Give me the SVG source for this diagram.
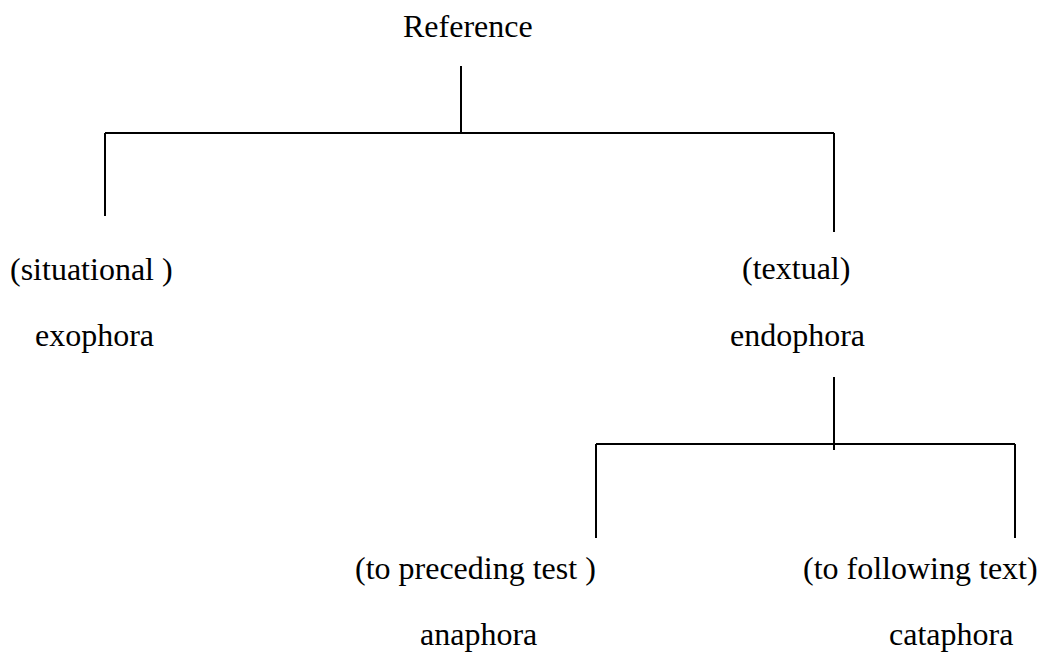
<svg xmlns="http://www.w3.org/2000/svg" width="1047" height="655" viewBox="0 0 1047 655">
<style>
text{font-family:"Liberation Serif","Times New Roman",serif;font-size:32px;fill:#000}
.c line{stroke:#000;stroke-width:2;fill:none}
</style>
<rect width="1047" height="655" fill="#fff"/>
<g id="connectors" class="c">
<line x1="461" y1="66" x2="461" y2="133"/>
<line x1="105" y1="133" x2="834" y2="133"/>
<line x1="105" y1="133" x2="105" y2="216"/>
<line x1="834" y1="133" x2="834" y2="232"/>
<line x1="834" y1="377" x2="834" y2="450"/>
<line x1="596" y1="444" x2="1015" y2="444"/>
<line x1="596" y1="444" x2="596" y2="538"/>
<line x1="1015" y1="444" x2="1015" y2="538"/>
</g>
<g id="reference"><text x="403" y="37">Reference</text></g>
<g id="exophora"><text x="10" y="280">(situational )</text><text x="35" y="346">exophora</text></g>
<g id="endophora"><text x="742" y="279">(textual)</text><text x="730" y="346">endophora</text></g>
<g id="anaphora"><text x="355" y="579">(to preceding test )</text><text x="420" y="645">anaphora</text></g>
<g id="cataphora"><text x="803" y="579">(to following text)</text><text x="889" y="645">cataphora</text></g>
</svg>
